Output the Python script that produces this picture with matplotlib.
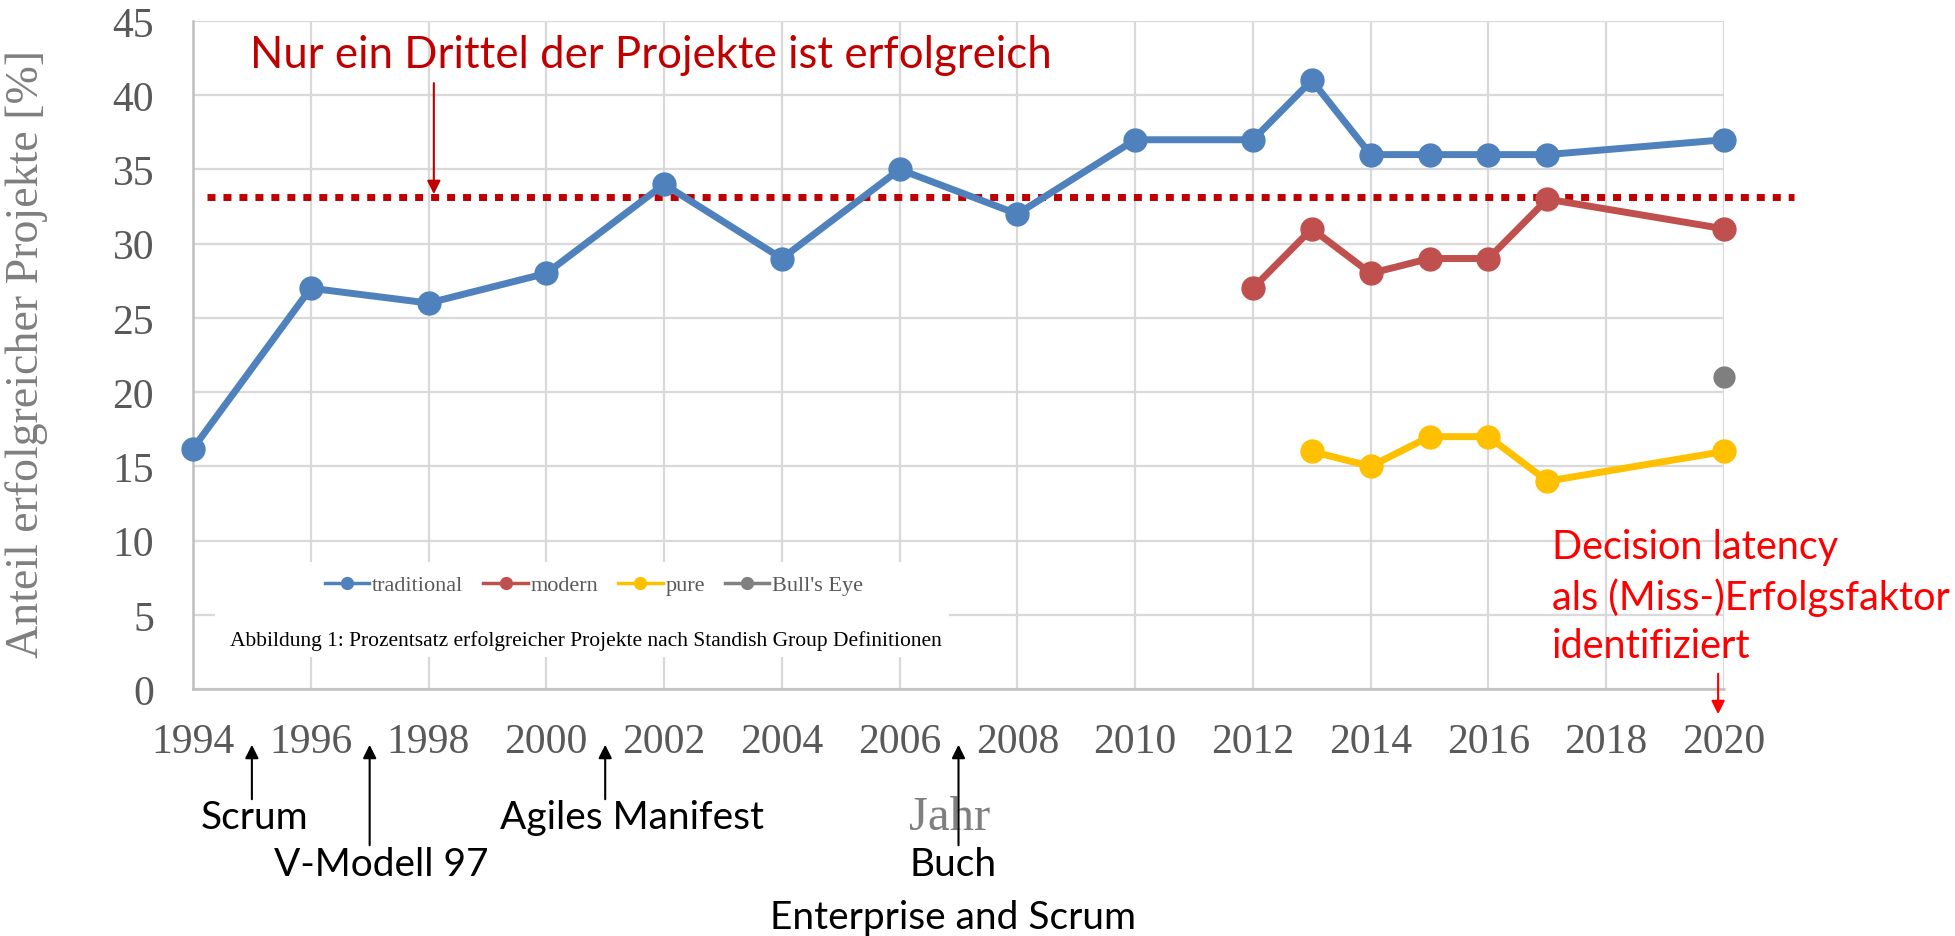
import matplotlib.pyplot as plt
from matplotlib.lines import Line2D
from matplotlib.patches import Rectangle
from matplotlib.transforms import blended_transform_factory

# data
years_trad = [1994, 1996, 1998, 2000, 2002, 2004, 2006, 2008, 2010, 2012, 2013, 2014, 2015, 2016, 2017, 2020]
trad = [16.2, 27, 26, 28, 34, 29, 35, 32, 37, 37, 41, 36, 36, 36, 36, 37]
years_mod = [2012, 2013, 2014, 2015, 2016, 2017, 2020]
modern = [27, 31, 28, 29, 29, 33, 31]
years_pure = [2013, 2014, 2015, 2016, 2017, 2020]
pure = [16, 15, 17, 17, 14, 16]
years_bull = [2020]
bull = [21]
third = 33.15
xticks = list(range(1994, 2021, 2))
yticks = list(range(0, 46, 5))

event_labels = ["Scrum", "V-Modell 97", "Agiles Manifest", "Buch"]
event_years = [1995, 1997, 2001, 2007]

W, H = 1956, 937
fig = plt.figure(figsize=(W / 100, H / 100), dpi=100)
ax = fig.add_axes([193 / W, 1 - 690 / H, 1531 / W, 668 / H])

def fy(px):
    return 1 - px / H

serif = "Liberation Serif"
sans = "Lato"

colors = ["#4F81BD", "#C0504D", "#FFC000", "#7F7F7F"]
names = ["traditional", "modern", "pure", "Bull's Eye"]

ax.plot(years_trad, trad, color=colors[0], lw=5, marker="o", ms=16.5, clip_on=False, zorder=3)
ax.plot(years_mod, modern, color=colors[1], lw=5, marker="o", ms=16.5, clip_on=False, zorder=3)
ax.plot(years_pure, pure, color=colors[2], lw=5, marker="o", ms=16.5, clip_on=False, zorder=3)
ax.plot(years_bull, bull, color=colors[3], lw=5, marker="o", ms=15, clip_on=False, zorder=3)

ax.set_xlim(1994, 2020)
ax.set_ylim(0, 45)
ax.set_xticks(xticks)
ax.set_yticks(yticks)
ax.grid(True, color="#d9d9d9", lw=1.6)
ax.set_axisbelow(True)
for s in ["top", "right"]:
    ax.spines[s].set_visible(False)
for s in ["left", "bottom"]:
    ax.spines[s].set_color("#bfbfbf")
    ax.spines[s].set_linewidth(1.8)
ax.tick_params(length=0, labelsize=30, labelcolor="#595959")
ax.tick_params(axis="y", pad=28)
ax.tick_params(axis="x", pad=24)
for lab in ax.get_xticklabels() + ax.get_yticklabels():
    lab.set_family(serif)

ax.set_ylabel("Anteil erfolgreicher Projekte [%]", family=serif, fontsize=33, color="#7f7f7f")
ax.yaxis.set_label_coords((27 - 193) / 1531, (690 - 354) / 668)
ax.yaxis.label.set_va("center")
ax.set_xlabel("Jahr", family=serif, fontsize=35, color="#7f7f7f")
ax.xaxis.set_label_coords((950 - 193) / 1531, (690 - 818) / 668)
ax.xaxis.label.set_va("center")

# white box behind legend and caption
ax.add_patch(Rectangle((1994.37, 2.16), 12.47, 6.4, facecolor="white", edgecolor="none", zorder=1))

handles = [Line2D([], [], color=c, lw=2.5, marker="o", ms=8.5) for c in colors]
leg = fig.legend(handles, names, ncol=4, loc="center", bbox_to_anchor=(594 / W, fy(586)),
                 frameon=False, handlelength=2.0, handletextpad=0.12, columnspacing=0.9,
                 prop={"family": serif, "size": 16})
for t in leg.get_texts():
    t.set_color("#595959")
fig.text(586 / W, fy(641), "Abbildung 1: Prozentsatz erfolgreicher Projekte nach Standish Group Definitionen",
         family=serif, fontsize=15.5, ha="center", va="center", color="black")

# one-third reference line
ax.plot([1994.24, 2021.19], [third, third], color="#C00000", lw=5, dashes=(1.15, 1.15), clip_on=False, zorder=2)
fig.text(651 / W, fy(56), "Nur ein Drittel der Projekte ist erfolgreich", family=sans, fontsize=31.5,
         color="#C00000", ha="center", va="center")
ax.annotate("", xy=(1998.09, third), xytext=(1998.09, 41.0),
            arrowprops=dict(arrowstyle="-|>", color="#C00000", lw=1.5, mutation_scale=20))

# milestones below the x axis
tr = blended_transform_factory(ax.transData, fig.transFigure)
arrow_bottom = [803, 849, 803, 849]
text_x = [1995.04, 1997.19, 2001.46, 2006.9]
text_y = [818, 865, 818, 865]
for lab, yr, yb, tx, ty in zip(event_labels, event_years, arrow_bottom, text_x, text_y):
    ax.annotate("", xy=(yr, fy(743)), xytext=(yr, fy(yb)), xycoords=tr, textcoords=tr,
                arrowprops=dict(arrowstyle="-|>", color="black", lw=1.5, mutation_scale=20),
                annotation_clip=False)
    ax.text(tx, fy(ty), lab, transform=tr, family=sans, fontsize=28, ha="center", va="center", color="black")
ax.text(2006.9, fy(918), "Enterprise and Scrum", transform=tr, family=sans, fontsize=28,
        ha="center", va="center", color="black")

# decision latency note
fig.text(1552 / W, fy(597), "Decision latency\nals (Miss-)Erfolgsfaktor\nidentifiziert", family=sans,
         fontsize=28.5, color="#FF0000", ha="left", va="center", linespacing=1.38)
ax.annotate("", xy=(2019.9, fy(718)), xytext=(2019.9, fy(672)), xycoords=tr, textcoords=tr,
            arrowprops=dict(arrowstyle="-|>", color="#FF0000", lw=1.5, mutation_scale=20),
            annotation_clip=False)

fig.savefig("out.png", dpi=100)
